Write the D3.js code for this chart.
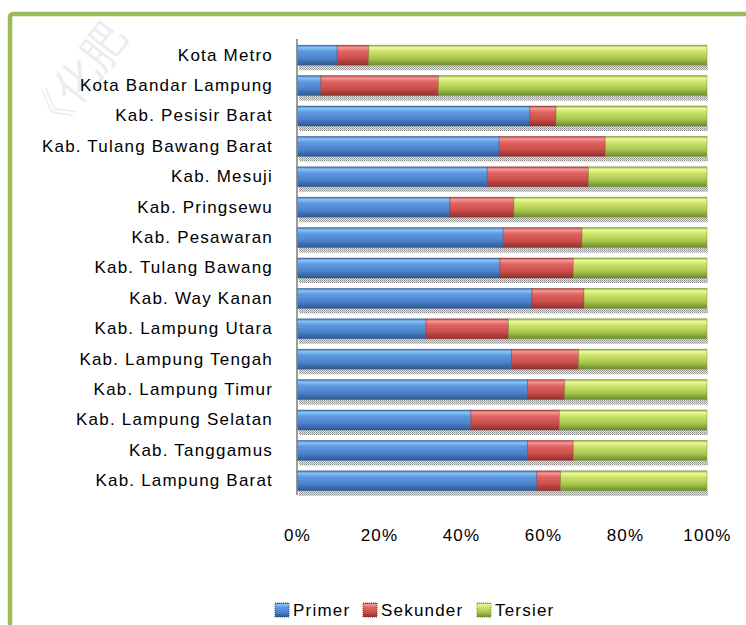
<!DOCTYPE html>
<html>
<head>
<meta charset="utf-8">
<script src="https://cdn.jsdelivr.net/npm/d3@7"></script>
<style>
  html, body { margin: 0; padding: 0; background: #ffffff; }
  svg { display: block; }
  text { font-family: "Liberation Sans", Arial, sans-serif; fill: #000; }
</style>
</head>
<body>
<script>
// Sectors of the regional economy, share of each kabupaten/kota (percent)
const categories = [
  "Kota Metro", "Kota Bandar  Lampung", "Kab. Pesisir Barat", "Kab. Tulang Bawang Barat",
  "Kab. Mesuji", "Kab. Pringsewu", "Kab. Pesawaran", "Kab. Tulang Bawang",
  "Kab. Way Kanan", "Kab. Lampung Utara", "Kab. Lampung Tengah", "Kab. Lampung Timur",
  "Kab. Lampung Selatan", "Kab. Tanggamus", "Kab. Lampung Barat"
];
const seriesNames = ["Primer", "Sekunder", "Tersier"];
const primer   = [9.8, 5.8, 56.8, 49.3, 46.4, 37.3, 50.3, 49.5, 57.3, 31.5, 52.3, 56.2, 42.4, 56.2, 58.5];
const sekunder = [7.7, 28.7, 6.4, 25.9, 24.7, 15.6, 19.2, 17.9, 12.7, 20.1, 16.4, 9.1, 21.6, 11.2, 5.8];
const tersier  = [82.5, 65.5, 36.8, 24.8, 28.9, 47.1, 30.5, 32.6, 30.0, 48.4, 31.3, 34.7, 36.0, 32.6, 35.7];
const tickValues = [0, 0.2, 0.4, 0.6, 0.8, 1.0];

const W = 746, H = 625;
const svg = d3.select("body").append("svg").attr("width", W).attr("height", H);
const defs = svg.append("defs");

// Glossy bar fills: dark rim, bright highlight near the top, darker base
const palettes = {
  Primer:   ["#3b6aa8", "#8cc4f7", "#5f9ae0", "#4c84cc", "#2e5791"],
  Sekunder: ["#a8403d", "#f59a98", "#e06461", "#cc4f4c", "#8e2f2c"],
  Tersier:  ["#86a83c", "#f0fa9c", "#cde56c", "#abc94f", "#6d8c2c"]
};
seriesNames.forEach((name, i) => {
  const c = palettes[name];
  const g = defs.append("linearGradient").attr("id", "grad" + i)
    .attr("x1", 0).attr("y1", 0).attr("x2", 0).attr("y2", 1);
  [[0, c[0]], [0.12, c[1]], [0.3, c[2]], [0.65, c[3]], [1, c[4]]].forEach(([o, col]) =>
    g.append("stop").attr("offset", o).attr("stop-color", col));
});

// Dotted drop shadow under each bar
const pat = defs.append("pattern").attr("id", "dots")
  .attr("width", 2).attr("height", 2).attr("patternUnits", "userSpaceOnUse");
pat.append("rect").attr("width", 2).attr("height", 2).attr("fill", "#e6e6e6");
pat.append("rect").attr("width", 1).attr("height", 1).attr("fill", "#8a8a8a");
pat.append("rect").attr("x", 1).attr("y", 1).attr("width", 1).attr("height", 1).attr("fill", "#a8a8a8");

// Faint watermark in the corner
svg.append("text")
  .attr("transform", "translate(48,142) rotate(-52)")
  .attr("font-size", 44)
  .attr("font-family", "'Noto Sans CJK SC', sans-serif")
  .style("fill", "#000").style("opacity", 0.07)
  .text("《化肥");

// Outer green frame
svg.append("rect")
  .attr("x", 10).attr("y", 14).attr("width", 760).attr("height", 640)
  .attr("rx", 3)
  .attr("fill", "none").attr("stroke", "#9bbb59").attr("stroke-width", 4.5);

const x = d3.scaleLinear().domain([0, 1]).range([297, 707]);
const y = d3.scaleBand().domain(categories).range([40, 496])
  .paddingInner(0.342).paddingOuter(0.171);

const rows = categories.map((c, i) => ({ cat: c, Primer: primer[i], Sekunder: sekunder[i], Tersier: tersier[i] }));
const stack = d3.stack().keys(seriesNames).offset(d3.stackOffsetExpand);
const layers = stack(rows);

// Shadows
svg.append("g").selectAll("rect").data(rows).join("rect")
  .attr("x", x(0) + 2)
  .attr("y", d => y(d.cat) + y.bandwidth())
  .attr("width", x(1) - x(0) - 1)
  .attr("height", 5)
  .attr("fill", "url(#dots)");

// Bars
const gBars = svg.append("g");
layers.forEach((layer, i) => {
  gBars.append("g").selectAll("rect").data(layer).join("rect")
    .attr("x", d => x(d[0]))
    .attr("y", d => y(d.data.cat))
    .attr("width", d => x(d[1]) - x(d[0]))
    .attr("height", y.bandwidth())
    .attr("fill", "url(#grad" + i + ")")
    .attr("stroke", palettes[seriesNames[i]][4])
    .attr("stroke-opacity", 0.55)
    .attr("stroke-width", 0.8);
});

// Category axis
const yAxis = svg.append("g").attr("transform", "translate(297,0)")
  .call(d3.axisLeft(y).tickSize(0).tickPadding(24));
yAxis.select(".domain").remove();
svg.append("line")
  .attr("x1", 297).attr("x2", 297).attr("y1", 39).attr("y2", 495)
  .attr("stroke", "#858585").attr("stroke-width", 1.6);
yAxis.selectAll("text")
  .attr("font-size", 17).style("letter-spacing", "1.2px")
  .attr("font-family", "'Liberation Sans', Arial, sans-serif")
  .attr("fill", "#000");

// Percentage axis
const xAxis = svg.append("g").attr("transform", "translate(0,535)")
  .call(d3.axisBottom(x).tickValues(tickValues).tickFormat(d3.format(".0%")).tickSize(0).tickPadding(0));
xAxis.select(".domain").remove();
xAxis.selectAll("text")
  .attr("font-size", 17).style("letter-spacing", "1.2px")
  .attr("font-family", "'Liberation Sans', Arial, sans-serif")
  .attr("dy", "0.35em").attr("fill", "#000");

// Legend
const legendX = [275, 363, 477];
const legend = svg.append("g");
seriesNames.forEach((name, i) => {
  legend.append("rect")
    .attr("x", legendX[i]).attr("y", 603).attr("width", 14).attr("height", 14)
    .attr("fill", "url(#grad" + i + ")")
    .attr("stroke", palettes[name][4]).attr("stroke-width", 1).attr("stroke-dasharray", "1,1");
  legend.append("text")
    .attr("x", legendX[i] + 18).attr("y", 610).attr("dy", "0.35em")
    .attr("font-size", 17).style("letter-spacing", "1.2px")
    .text(name);
});
</script>
</body>
</html>
